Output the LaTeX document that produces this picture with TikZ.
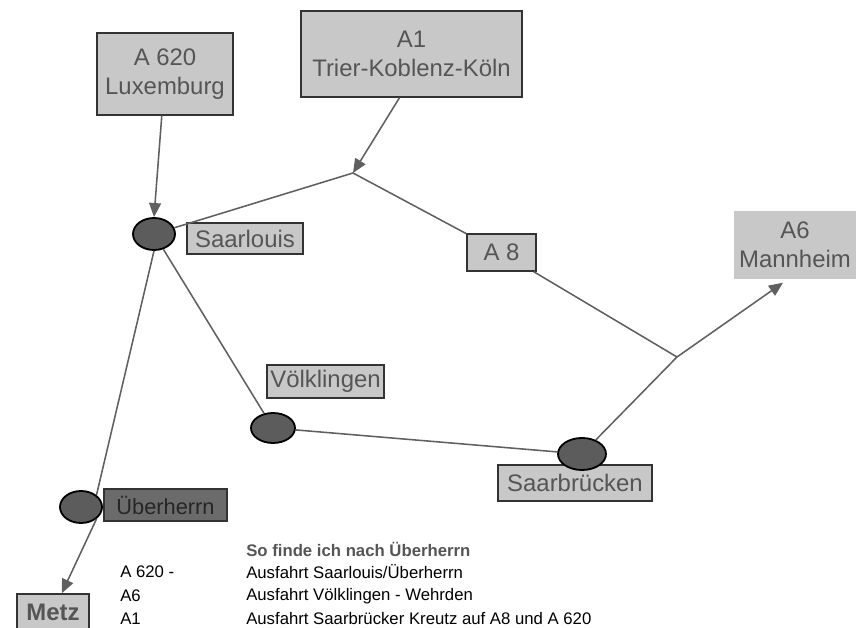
\documentclass[tikz,border=0pt]{standalone}
\usepackage{fontspec}
\setmainfont{Liberation Sans}
\usetikzlibrary{arrows.meta,shapes.geometric,calc}
\usepackage{xcolor}

\definecolor{boxgray}{HTML}{C8C8C8}
\definecolor{txtgray}{HTML}{555555}
\definecolor{linegray}{HTML}{606060}
\definecolor{towngray}{HTML}{5C5C5C}

\begin{document}
\begin{tikzpicture}[x=0.025cm, y=-0.025cm,
    roadbox/.style={draw=black!80, line width=1pt, fill=boxgray, text=txtgray, align=center,
                    inner sep=0pt, font=\fontsize{17}{20.6}\selectfont},
    town/.style={ellipse, draw=black, line width=1.3pt, fill=towngray, inner sep=0pt},
    road/.style={draw=linegray, line width=1.1pt},
    arr/.style={-{Triangle[length=10pt,width=8.5pt]}},
    legend/.style={anchor=west, inner sep=0pt, font=\fontsize{11.9}{14}\selectfont}]

\useasboundingbox (0,0) rectangle (856,628);

\node[roadbox, minimum width=136*0.025cm, minimum height=82*0.025cm] at (165,74) (lux) {A 620\\Luxemburg};
\node[roadbox, minimum width=221*0.025cm, minimum height=86*0.025cm] at (411.5,54) (a1) {A1\\Trier-Koblenz-K\"oln};
\node[roadbox, minimum width=69*0.025cm, minimum height=37*0.025cm] at (501.5,252.5) (a8) {A 8};
\node[roadbox, draw=none, minimum width=122*0.025cm, minimum height=68*0.025cm] at (795,245) (mann) {A6\\Mannheim};
\node[roadbox, minimum width=72*0.025cm, minimum height=36*0.025cm, font=\fontsize{17}{20}\selectfont\bfseries] at (53,612) (metz) {Metz};

\node[roadbox, minimum width=116*0.025cm, minimum height=31*0.025cm] at (245,238.5) (slouisbox) {Saarlouis};
\node[roadbox, minimum width=117*0.025cm, minimum height=33*0.025cm] at (325.5,381.5) (voelkbox) {V\"olklingen};
\node[roadbox, minimum width=154*0.025cm, minimum height=36*0.025cm] at (575,483) (sbrbox) {Saarbr\"ucken};
\node[roadbox, fill=black!58, text=black!85, minimum width=123*0.025cm, minimum height=32*0.025cm,
      font=\fontsize{15.5}{18}\selectfont] at (165.5,505) (uebbox) {\"Uberherrn};

\node[town, minimum width=42*0.025cm, minimum height=32*0.025cm] at (154,234) (slouis) {};
\node[town, minimum width=44*0.025cm, minimum height=30*0.025cm] at (273,428) (voelk) {};
\node[town, minimum width=48*0.025cm, minimum height=32*0.025cm] at (582,454) (sbr) {};
\node[town, minimum width=42*0.025cm, minimum height=32*0.025cm] at (81,507) (ueb) {};

\coordinate (j1) at (353,173);
\coordinate (j2) at (677,357);

\draw[road, arr] (lux) -- (slouis.north);
\draw[road, arr] ($(a1.south)+(-12,0)$) -- (j1);
\draw[road] (slouis) -- (j1) -- (a8);
\draw[road] (a8) -- (j2);
\draw[road, arr] (j2) -- ($(mann.south)+(-12,3)$);
\draw[road] (sbr) -- (j2);

\draw[road] (slouis) -- (voelk);
\draw[road] (voelk) -- (sbr);
\draw[road] (slouis.south) -- (ueb.north east);
\draw[road, arr] (ueb.south east) -- (metz);

\node[legend, text=txtgray, font=\fontsize{11.9}{14}\selectfont\bfseries] at (246,549) (title) {So finde ich nach \"Uberherrn};
\node[legend] at (120,572) (r1) {A 620 -};
\node[legend] at (120,596) (r2) {A6};
\node[legend] at (120,619) (r3) {A1};
\node[legend] at (246,572) (e1) {Ausfahrt Saarlouis/\"Uberherrn};
\node[legend] at (246,596) (e2) {Ausfahrt V\"olklingen - Wehrden};
\node[legend] at (246,619) (e3) {Ausfahrt Saarbr\"ucker Kreutz auf A8 und A 620};

\end{tikzpicture}
\end{document}
